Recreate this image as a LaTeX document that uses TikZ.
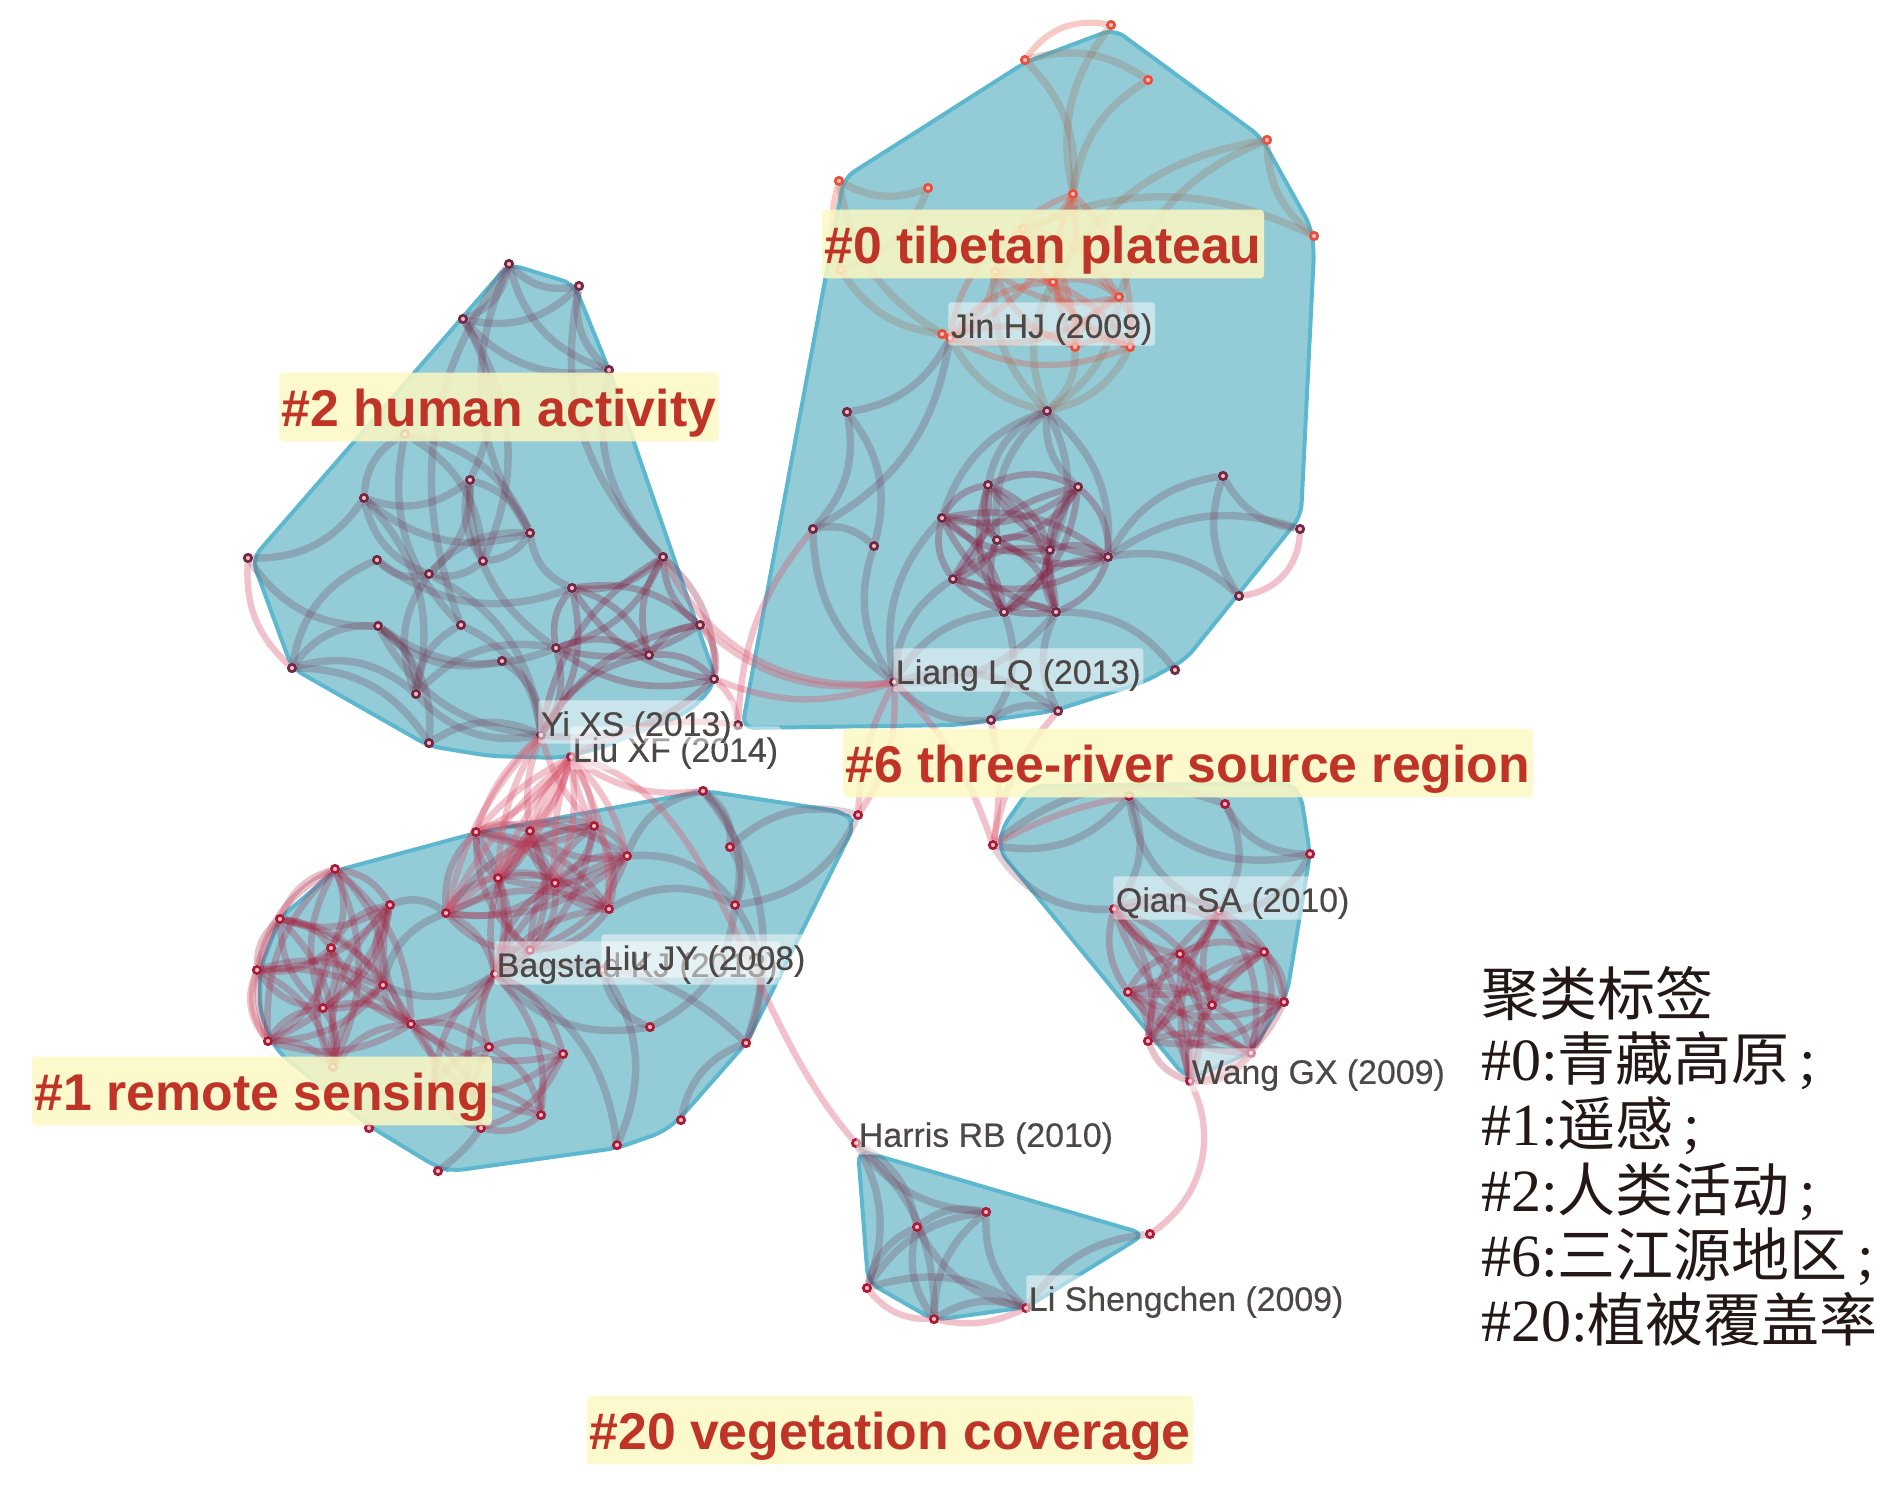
\documentclass[tikz,border=0pt]{standalone}
\usepackage{fontspec}
\setmainfont{Liberation Sans}
\newfontfamily\cjk{Noto Sans CJK SC}
\newfontfamily\legendlatin{Liberation Serif}
\newfontfamily\namefont[FakeBold=0.35]{Liberation Sans}
\usetikzlibrary{backgrounds}
\definecolor{hullfill}{HTML}{93CCD7}
\definecolor{hullline}{HTML}{5DB8CF}
\definecolor{tagfill}{HTML}{FBF8C3}
\definecolor{tagtext}{HTML}{BF3427}
\definecolor{nametext}{HTML}{4D4845}
\definecolor{legendtext}{HTML}{231815}
\definecolor{arcplum}{HTML}{702A48}
\definecolor{arccrim}{HTML}{A81C3C}
\definecolor{arcdeep}{HTML}{86183A}
\definecolor{arcsalm}{HTML}{E8503C}
\definecolor{arcolive}{HTML}{A0705C}
\definecolor{arcrose}{HTML}{D9566E}
\tikzset{
  hullshape/.style={fill=hullfill,draw=hullline,line width=3pt,rounded corners=9pt,line join=round},
  citedot/.style={circle,draw=#1,fill=white!75!red,inner sep=0pt,minimum size=5.5pt,line width=2.1pt},
  arcdark/.style={draw=arcplum,opacity=.23,line width=5.6pt},
  arcdeep/.style={draw=arcdeep,opacity=.3,line width=5pt},
  arcred/.style={draw=arccrim,opacity=.27,line width=5pt},
  arcorange/.style={draw=arcsalm,opacity=.3,line width=4.6pt},
  arcgray/.style={draw=arcolive,opacity=.28,line width=5.6pt},
  arcpink/.style={draw=arcrose,opacity=.36,line width=4.8pt},
  clustertag/.style={fill=tagfill,fill opacity=.85,text opacity=1,rounded corners=3pt,inner xsep=2pt,inner ysep=0pt,text height=40.2pt,text depth=11.5pt,
    text=tagtext,font=\fontsize{38.8}{40}\selectfont\bfseries},
  citename/.style={anchor=west,fill=white,fill opacity=.5,text opacity=1,rounded corners=2pt,inner xsep=2pt,inner ysep=0pt,text height=26.5pt,text depth=5.8pt,
    text=nametext,font=\fontsize{25.4}{27}\selectfont\namefont},
}
% every pair of a list, bends alternating
\newcommand{\arcmesh}[2]{%
  \foreach \p [count=\i] in {#2}{%
    \foreach \q [count=\j] in {#2}{%
      \ifnum\i<\j
        \pgfmathtruncatemacro\bendang{24*(2*mod(\i+\j,2)-1)}
        \draw[#1] (\p) to[bend left=\bendang] (\q);
      \fi}}}
\newcommand{\cjktext}[1]{{\cjk\fontsize{43.5}{49}\selectfont #1}}
\begin{document}
\begin{tikzpicture}[x=.75pt,y=-.75pt]
\useasboundingbox (0,0) rectangle (1890,1486);
% citation nodes
\foreach \n/\x/\y in {h1/509/264,h2/579/286,h3/463/319,h4/609/370,h5/405/434,h6/470/480,h7/364/498,h8/530/533,h9/248/558,h10/377/560,h11/483/561,h12/429/574,h13/663/557,h14/572/588,h15/700/625,h16/378/626,h17/461/625,h18/556/648,h19/649/655,h20/292/668,h21/502/661,h22/714/679,h23/416/694,h24/429/743,h25/541/735}
  \node[citedot=arcplum] (\n) at (\x,\y) {};
\foreach \n/\x/\y in {t5/847/412,t6/813/529,t7/874/546,t8/942/518,t9/894/682,t23/1047/411,t24/988/485,t25/1078/487,t26/1223/476,t27/1300/529,t28/997/540,t29/1050/550,t30/1108/557,t31/953/579,t32/1004/612,t33/1056/612,t34/1239/596,t35/1175/670,t36/1058/711,t37/991/720,t38/738/725}
  \node[citedot=arcplum] (\n) at (\x,\y) {};
\foreach \n/\x/\y in {t1/839/181,t2/928/188,t3/841/270,t4/942/334,t10/1111/25,t11/1025/60,t12/1148/80,t13/1267/140,t14/1073/194,t15/1314/236,t16/1023/229,t17/995/272,t18/1053/282,t19/1119/297,t20/950/338,t21/1075/347,t22/1130/347}
  \node[citedot=arcsalm] (\n) at (\x,\y) {};
\foreach \n/\x/\y in {r1/703/791,r2/858/815,r3/476/832,r4/530/831,r5/594/826,r6/627/856,r7/730/847,r8/335/869,r9/498/878,r10/555/883,r11/390/905,r12/446/913,r13/609/909,r14/735/905,r15/280/919,r16/331/948,r17/530/950,r18/257/970,r19/495/974,r20/383/985,r21/323/1008,r22/411/1024,r23/650/1027,r24/746/1043,r25/489/1047,r26/268/1041,r27/563/1054,r28/333/1067,r29/434/1089,r30/541/1115,r31/481/1128,r32/369/1128,r33/681/1120,r34/617/1145,r35/438/1171,r36/603/970,b1/571/757}
  \node[citedot=arccrim] (\n) at (\x,\y) {};
\foreach \n/\x/\y in {s1/1129/796,s2/1225/804,s3/993/845,s4/1310/854,s5/1114/909,s6/1219/911,s7/1180/954,s8/1264/952,s9/1128/992,s10/1212/1005,s11/1284/1002,s12/1148/1041,s13/1251/1053,s14/1190/1081,v1/856/1143,v2/917/1227,v3/986/1212,v4/1150/1234,v5/1026/1308,v6/867/1288,v7/934/1319}
  \node[citedot=arccrim] (\n) at (\x,\y) {};
\begin{scope}[on background layer]
% cluster hulls
\draw[hullshape] (509,264) -- (574,284) -- (609,370) -- (716,680) -- (700,702) -- (680,716) -- (600,748) -- (560,758) -- (490,756) -- (429,746) -- (292,668) -- (252,559) -- cycle;
\draw[hullshape] (844,178) -- (1026,62) -- (1114,29) -- (1261,137) -- (1311,227) -- (1314,251) -- (1301,516) -- (1186,659) -- (1144,682) -- (1053,711) -- (957,725) -- (742,728) -- cycle;
\draw[hullshape] (705,791) -- (844,812) -- (855,824) -- (747,1042) -- (681,1117) -- (663,1132) -- (617,1148) -- (452,1171) -- (437,1167) -- (371,1127) -- (277,1051) -- (260,1013) -- (260,970) -- (280,918) -- (335,871) -- (476,833) -- cycle;
\draw[hullshape] (1032,786) -- (1289,783) -- (1301,795) -- (1310,854) -- (1287,994) -- (1252,1051) -- (1198,1075) -- (1186,1078) -- (999,850) -- (1002,828) -- cycle;
\draw[hullshape] (858,1150) -- (1145,1234) -- (1027,1307) -- (934,1320) -- (868,1282) -- cycle;
% human activity
\arcmesh{arcdark}{h6,h8,h11,h12}
\arcmesh{arcdeep}{h13,h14,h15,h18,h19,h22,h25}
\foreach \p/\q in {h3/h11,h1/h3,h3/h6,h5/h11,h5/h8,h7/h5,h20/h16,h20/h23,h20/h24,h20/h10,h7/h23,h14/h8,h16/h23,h17/h25,h21/h25,h23/h18,h12/h25,h24/h25}
  \draw[arcdark] (\p) to[bend left=28] (\q);
\foreach \p/\q in {h1/h2,h3/h2,h1/h4,h2/h4,h3/h4,h2/h13,h4/h13,h1/h8,h9/h7,h9/h16,h7/h8,h7/h6,h7/h12,h10/h14,h5/h17,h16/h18,h16/h25,h16/h21,h17/h23,h23/h25,h24/h16,h12/h23,h6/h18,h10/h12,h1/h17}
  \draw[arcdark] (\p) to[bend right=28] (\q);
% tibetan plateau
\arcmesh{arcorange}{t14,t16,t17,t18,t19,t20,t21,t22}
\arcmesh{arcdeep}{t8,t24,t25,t28,t29,t30,t31,t32,t33}
\foreach \p/\q in {t1/t2,t1/t4,t3/t4,t12/t14,t10/t14,t13/t18,t13/t19,t13/t15,t15/t16,t23/t19,t23/t22,t23/t21}
  \draw[arcgray] (\p) to[bend right=24] (\q);
\foreach \p/\q in {t2/t3,t11/t12,t11/t14,t23/t17,t23/t18,t23/t20}
  \draw[arcgray] (\p) to[bend left=24] (\q);
\foreach \p/\q in {t23/t8,t23/t24,t23/t25,t23/t28,t5/t20,t6/t9,t7/t9,t8/t9,t31/t9,t9/t33,t33/t36,t9/t37,t36/t37,t26/t34}
  \draw[arcdark] (\p) to[bend right=26] (\q);
\foreach \p/\q in {t23/t29,t23/t30,t30/t26,t30/t27,t30/t34,t27/t26,t33/t35,t5/t6,t5/t7,t6/t7,t20/t6,t9/t32,t9/t36,t32/t37}
  \draw[arcdark] (\p) to[bend left=26] (\q);
% remote sensing
\arcmesh{arcred}{r8,r11,r15,r16,r18,r20,r21,r22,r26,r28}
\arcmesh{arcred}{r3,r4,r5,r6,r9,r10,r12,r13,r17,r19}
\arcmesh{arcred}{r19,r22,r25,r27,r29,r30,r31}
\foreach \p/\q in {r1/r6,r2/r7,r36/r23,r19/r23,r24/r33,r12/r20,r12/r11}
  \draw[arcdark] (\p) to[bend right=28] (\q);
\foreach \p/\q in {r1/r7,r1/r14,r2/r14,r7/r14,r13/r14,r6/r14,r1/r24,r14/r24,r14/r23,r19/r24,r36/r34,r19/r34,r19/r20}
  \draw[arcdark] (\p) to[bend left=28] (\q);
\draw[arcdark] (r31) to[bend left=8] (r35);
% three-river source region
\arcmesh{arcred}{s5,s6,s7,s8,s9,s10,s11,s12,s13,s14}
\foreach \p/\q in {s3/s1,s1/s4,s2/s4,s3/s5,s1/s6}
  \draw[arcdark] (\p) to[bend right=30] (\q);
\foreach \p/\q in {s1/s5,s2/s6,s4/s6,s3/s2}
  \draw[arcdark] (\p) to[bend left=30] (\q);
% vegetation coverage
\foreach \p/\q in {v1/v6,v1/v7,v1/v2,v6/v2,v6/v3,v6/v5,v2/v3,v7/v5}
  \draw[arcdark] (\p) to[bend left=24] (\q);
\foreach \p/\q in {v1/v3,v3/v5,v2/v5,v2/v7,v4/v5,v3/v7}
  \draw[arcdark] (\p) to[bend right=24] (\q);
% links between clusters
\foreach \p in {r3,r4,r5,r9,r12,r10,r13,r6}
  \draw[arcpink] (b1) to[bend left=14] (\p);
\foreach \p in {r3,r4,r5,r9,r12,r10}
  \draw[arcpink] (b1) to[bend right=10] (\p);
\foreach \p in {r3,r4,r5,r9,r12}
  \draw[arcpink] (h25) to[bend right=14] (\p);
\draw[arcpink] (b1) .. controls (720,790) and (740,1010) .. (v1);
\draw[arcpink] (b1) to[bend right=20] (r1);
\draw[arcpink] (b1) to[bend left=18] (t38);
\draw[arcpink] (t38) to[bend left=18] (t6);
\draw[arcpink] (t38) to[bend right=20] (h22);
\draw[arcpink] (h9) to[bend right=25] (h20);
\draw[arcpink] (h13) to[bend right=35] (t9);
\draw[arcpink] (h15) to[bend right=25] (t9);
\draw[arcpink] (h22) to[bend right=20] (t9);
\draw[arcpink] (t9) to[bend left=18] (r2);
\draw[arcpink] (t9) to[bend right=12] (r2);
\draw[arcpink] (t9) to[bend left=12] (s3);
\draw[arcpink] (t36) to[bend right=15] (s3);
\draw[arcpink] (t37) to[bend left=10] (s3);
\draw[arcpink] (s3) to[bend left=8] (s1);
\draw[arcpink] (t34) to[bend right=40] (t27);
\draw[arcorange] (t11) to[bend left=32] (t10);
\draw[arcorange] (t1) to[bend right=16] (t3);
\draw[arcpink] (s14) to[bend left=40] (v4);
\draw[arcpink] (s13) to[bend left=30] (s14);
\draw[arcpink] (v6) to[bend right=25] (v7);
\draw[arcpink] (v7) to[bend right=18] (v5);
\draw[arcpink] (r18) to[bend right=30] (r26);
\end{scope}
% author names
\node[citename] (nLiuXF) at (570,748) {Liu XF (2014)};
\node[citename] (nYiXS) at (538,722) {Yi XS (2013)};
\node[citename] (nJinHJ) at (948,324) {Jin HJ (2009)};
\node[citename] (nLiangLQ) at (893,670) {Liang LQ (2013)};
\node[citename] (nBagstad) at (494,963) {Bagstad KJ (2013)};
\node[citename] (nLiuJY) at (601,956) {Liu JY (2008)};
\node[citename] (nQianSA) at (1113,898) {Qian SA (2010)};
\node[citename] (nWangGX) at (1189,1070) {Wang GX (2009)};
\node[citename] (nHarris) at (856,1133) {Harris RB (2010)};
\node[citename] (nLiSheng) at (1026,1297) {Li Shengchen (2009)};
% cluster labels
\node[clustertag] (tag2) at (499,407) {\#2 human activity};
\node[clustertag] (tag0) at (1043,244) {\#0 tibetan plateau};
\node[clustertag] (tag6) at (1188,763) {\#6 three-river source region};
\node[clustertag] (tag1) at (262,1091) {\#1 remote sensing};
\node[clustertag] (tag20) at (890,1430) {\#20 vegetation coverage};
% legend
\node[anchor=north west,align=left,inner sep=0pt,text=legendtext,font=\fontsize{45}{49}\selectfont\legendlatin] (legend) at (1481,966) {%
  \cjktext{聚类标签}\\
  \#0:\cjktext{青藏高原}\hspace{7pt};\\
  \#1:\cjktext{遥感}\hspace{7pt};\\
  \#2:\cjktext{人类活动}\hspace{7pt};\\
  \#6:\cjktext{三江源地区}\hspace{7pt};\\
  \#20:\cjktext{植被覆盖率}};
\end{tikzpicture}
\end{document}
